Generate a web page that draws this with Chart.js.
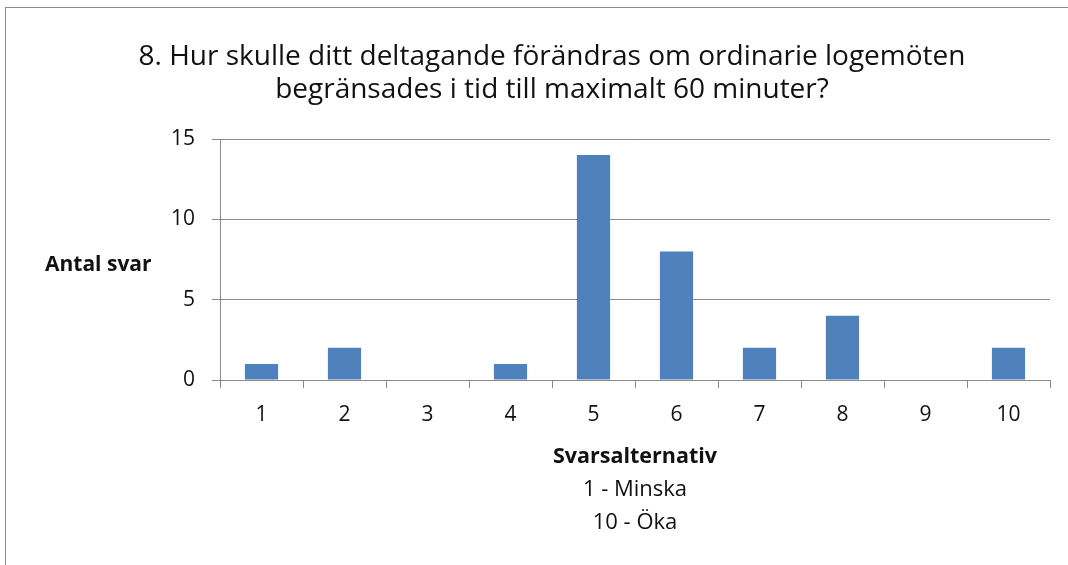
<!DOCTYPE html>
<html>
<head>
<meta charset="utf-8">
<script src="https://cdn.jsdelivr.net/npm/chart.js@4/dist/chart.umd.min.js"></script>
<style>
  html, body { margin: 0; padding: 0; background: #fff; }
  #wrap { position: relative; width: 1068px; height: 565px; }
  #frame { position: absolute; left: 5px; top: 7px; right: -2px; bottom: -2px; border: 1px solid #8c8c8c; pointer-events: none; }
</style>
</head>
<body>
<div id="wrap">
  <canvas id="chart" width="1068" height="565"></canvas>
  <div id="frame"></div>
</div>
<script>
const fontType = '"Open Sans"';

/* answer options 1..10 and number of answers */
const categories = ['1', '2', '3', '4', '5', '6', '7', '8', '9', '10'];
const answers = [1, 2, 0, 1, 14, 8, 2, 4, 0, 2];
const yTicks = [0, 5, 10, 15];

const titleLines = [
  '8. Hur skulle ditt deltagande förändras om ordinarie logemöten',
  'begränsades i tid till maximalt 60 minuter?'
];
const yTitle = 'Antal svar';
const xTitle = 'Svarsalternativ';
const xNotes = ['1 - Minska', '10 - Öka'];

const gridColor = '#8a8a8a';
const barColor = '#4f81bd';

// horizontal y title + the two extra lines under the x title
const extraText = {
  id: 'extraText',
  afterDraw(chart) {
    const ctx = chart.ctx;
    const a = chart.chartArea;
    ctx.save();
    ctx.fillStyle = '#111';
    ctx.textBaseline = 'middle';
    ctx.font = 'bold 21px ' + fontType;
    ctx.textAlign = 'left';
    ctx.fillText(yTitle, 45, 265);
    ctx.font = '22px ' + fontType;
    ctx.textAlign = 'center';
    const cx = (a.left + a.right) / 2;
    xNotes.forEach((t, i) => {
      ctx.fillText(t, cx, 490 + i * 33);
    });
    ctx.restore();
  }
};

const ctx = document.getElementById('chart');
new Chart(ctx, {
  type: 'bar',
  data: {
    labels: categories,
    datasets: [{
      label: yTitle,
      data: answers,
      backgroundColor: barColor,
      borderWidth: 0,
      categoryPercentage: 1,
      barPercentage: 0.4
    }]
  },
  options: {
    responsive: false,
    animation: false,
    layout: {
      padding: { left: 54, right: 18, top: 0, bottom: 0 }
    },
    plugins: {
      legend: { display: false },
      tooltip: { enabled: false },
      title: {
        display: true,
        text: titleLines,
        color: '#111',
        font: { family: fontType, size: 28, weight: 'normal', lineHeight: '33px' },
        padding: { top: 41, bottom: 32 }
      }
    },
    scales: {
      x: {
        offset: true,
        grid: {
          offset: true,
          drawOnChartArea: false,
          drawTicks: true,
          tickLength: 8,
          color: gridColor
        },
        border: { color: gridColor, width: 1 },
        ticks: {
          color: '#111',
          padding: 14,
          font: { family: fontType, size: 21 }
        },
        title: {
          display: true,
          text: xTitle,
          color: '#111',
          font: { family: fontType, size: 21.5, weight: 'bold', lineHeight: '24px' },
          padding: { top: 18, bottom: 96 }
        },
        afterFit(scale) {
          scale.height = 185;
        }
      },
      y: {
        min: 0,
        max: 15,
        afterBuildTicks(scale) {
          scale.ticks = yTicks.map(v => ({ value: v }));
        },
        grid: {
          color: gridColor,
          tickLength: 8
        },
        border: { color: gridColor, width: 1 },
        ticks: {
          color: '#111',
          padding: 17,
          font: { family: fontType, size: 21 }
        },
        afterFit(scale) {
          scale.width = 166;
        }
      }
    }
  },
  plugins: [extraText]
});
</script>
</body>
</html>
